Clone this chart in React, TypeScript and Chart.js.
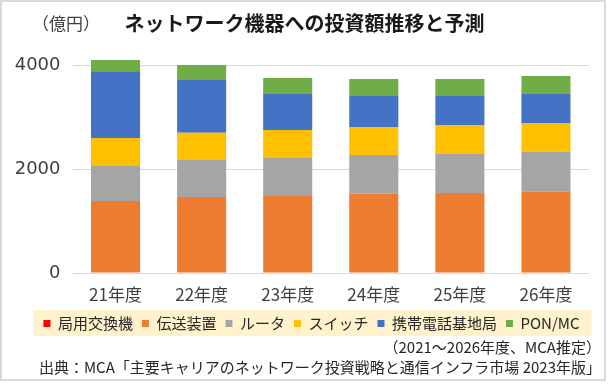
import React, { useEffect, useRef } from 'react';
import { Chart, registerables } from 'chart.js';

Chart.register(...registerables);

const categories = ['21年度', '22年度', '23年度', '24年度', '25年度', '26年度'];
const seriesNames = ['局用交換機', '伝送装置', 'ルータ', 'スイッチ', '携帯電話基地局', 'PON/MC'];
const kyokuyoKokanki = [0, 0, 0, 0, 0, 0];
const densoSochi = [1385, 1462, 1481, 1525, 1538, 1563];
const router = [673, 711, 731, 744, 750, 770];
const switchData = [538, 525, 538, 539, 558, 552];
const kichikyoku = [1283, 1014, 692, 596, 558, 557];
const ponMc = [217, 288, 308, 327, 327, 346];
const yTickValues = [0, 2000, 4000];
const seriesColors = ['#FF0000', '#ED7D31', '#A5A5A5', '#FFC000', '#4472C4', '#70AD47'];

const titleText = 'ネットワーク機器への投資額推移と予測';
const unitText = '（億円）';
const noteText = '（2021～2026年度、MCA推定）';
const sourceText = '出典：MCA「主要キャリアのネットワーク投資戦略と通信インフラ市場 2023年版」';

const JP = "'Noto Sans CJK JP', 'Noto Sans', sans-serif";
const LEGEND_CENTER_X = 311.5;

const legendBg = {
  id: 'legendBg',
  afterUpdate(chart: any) {
    const lg = chart.legend;
    if (!lg || !lg.legendHitBoxes || !lg.legendHitBoxes.length) return;
    const hb = lg.legendHitBoxes;
    const left = Math.min(...hb.map((h: any) => h.left));
    const right = Math.max(...hb.map((h: any) => h.left + h.width));
    const dx = LEGEND_CENTER_X - (left + right) / 2;
    lg.left += dx;
    lg.right += dx;
    hb.forEach((h: any) => { h.left += dx; });
  },
  beforeDraw(chart: any) {
    const lg = chart.legend;
    if (!lg || !lg.legendHitBoxes || !lg.legendHitBoxes.length) return;
    const hb = lg.legendHitBoxes;
    const left = Math.min(...hb.map((h: any) => h.left)) - 10;
    const right = Math.max(...hb.map((h: any) => h.left + h.width)) + 12;
    const top = Math.min(...hb.map((h: any) => h.top)) - 6;
    const bottom = Math.max(...hb.map((h: any) => h.top + h.height)) + 5;
    const ctx = chart.ctx;
    ctx.save();
    ctx.fillStyle = '#FFF2CC';
    ctx.fillRect(left, top, right - left, bottom - top);
    ctx.restore();
  },
};

export default function App() {
  const ref = useRef<HTMLCanvasElement | null>(null);

  useEffect(() => {
    if (!ref.current) return;
    const all = [kyokuyoKokanki, densoSochi, router, switchData, kichikyoku, ponMc];
    const chart = new Chart(ref.current, {
      type: 'bar',
      data: {
        labels: categories,
        datasets: all.map((d, i) => ({
          label: seriesNames[i],
          data: d,
          backgroundColor: seriesColors[i],
          borderWidth: 0,
          barPercentage: 0.57,
          categoryPercentage: 1.0,
        })),
      },
      plugins: [legendBg],
      options: {
        responsive: false,
        animation: false,
        devicePixelRatio: 1,
        layout: { padding: { left: 0, right: 20, top: 49.4, bottom: 43 } },
        plugins: {
          tooltip: { enabled: false },
          title: { display: false },
          legend: {
            position: 'bottom',
            labels: {
              boxWidth: 7,
              boxHeight: 7,
              padding: 9,
              color: '#262626',
              font: { family: JP, size: 15 },
            },
          },
        },
        scales: {
          x: {
            stacked: true,
            grid: { display: false, drawTicks: false },
            border: { display: false },
            ticks: { color: '#404040', font: { family: JP, size: 17 }, padding: 11 },
            afterFit: (s: any) => { s.height = 34; },
          },
          y: {
            stacked: true,
            min: 0,
            max: 4300,
            grid: { color: '#d9d9d9', lineWidth: 1, drawTicks: false },
            border: { display: false },
            ticks: {
              stepSize: 2000,
              color: '#404040',
              font: { family: "'DejaVu Sans', sans-serif", size: 18 },
              padding: 12,
              callback: (v: any) => String(v),
            },
            afterBuildTicks: (s: any) => {
              s.ticks = yTickValues.map((v) => ({ value: v }));
            },
            afterFit: (s: any) => { s.width = 72.5; },
          },
        },
      },
    } as any);
    return () => chart.destroy();
  }, []);

  return (
    <div style={{ position: 'absolute', left: 0, top: 0, width: 609, height: 384, background: '#fff', fontFamily: JP, overflow: 'hidden' }}>
      <div style={{ position: 'absolute', left: 0, top: 0, width: 606, height: 381, border: '2px solid #d9d9d9', boxSizing: 'border-box' }} />
      <canvas ref={ref} width={609} height={384} style={{ position: 'absolute', left: 0, top: 0, width: 609, height: 384 }} />
      <div style={{ position: 'absolute', left: 32, top: 13, fontSize: 17, lineHeight: '20px', color: '#404040', whiteSpace: 'nowrap' }}>{unitText}</div>
      <div style={{ position: 'absolute', left: 0, width: 609, top: 12, textAlign: 'center', fontSize: 20, lineHeight: '22px', fontWeight: 700, color: '#1a1a1a', whiteSpace: 'nowrap' }}>{titleText}</div>
      <div style={{ position: 'absolute', right: 8, top: 337, fontSize: 15, lineHeight: '20px', color: '#262626', whiteSpace: 'nowrap', textAlign: 'right' }}>{noteText}</div>
      <div style={{ position: 'absolute', right: 8, top: 357, fontSize: 15, lineHeight: '20px', color: '#262626', whiteSpace: 'nowrap', textAlign: 'right' }}>{sourceText}</div>
    </div>
  );
}
